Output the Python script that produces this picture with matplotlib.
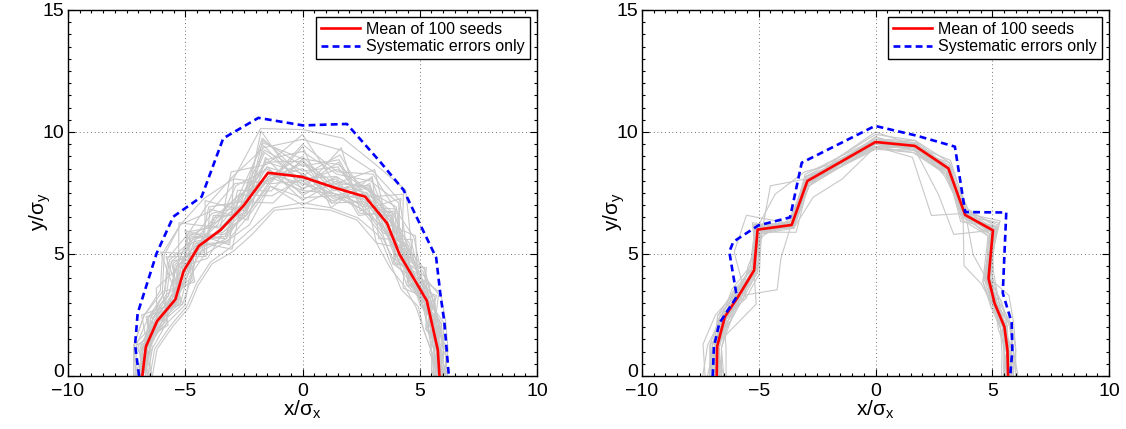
import numpy as np
import matplotlib
matplotlib.use("Agg")
import matplotlib.pyplot as plt
import matplotlib.transforms as mtransforms
from matplotlib.ticker import MultipleLocator

plt.rcParams['font.family'] = ['Liberation Sans', 'DejaVu Sans']
plt.rcParams['mathtext.fontset'] = 'custom'
plt.rcParams['mathtext.rm'] = 'Liberation Sans'
plt.rcParams['mathtext.it'] = 'Liberation Sans'

# Polar angles (deg) at which every seed's contour is sampled
angles_deg = [0, 10, 20, 30, 40, 50, 60, 70, 80, 90,
              100, 110, 120, 130, 140, 150, 160, 170, 180]

# ---- Left panel ----
mean_left_x = [-6.83, -6.68, -6.20, -5.42, -5.07, -4.42, -3.50, -2.52, -1.47,
               -0.01, 1.46, 2.67, 3.60, 4.14, 5.30, 5.77, 5.84]
mean_left_y = [0.00, 1.20, 2.25, 3.14, 4.30, 5.33, 5.98, 6.97, 8.33,
               8.16, 7.69, 7.35, 6.27, 4.98, 3.09, 1.07, 0.00]

sys_left_x = [-6.97, -7.14, -7.03, -6.22, -5.51, -4.30, -3.38, -1.88, 0.02,
              1.89, 3.31, 4.31, 5.70, 5.88, 6.05, 6.24]
sys_left_y = [0.00, 1.27, 2.57, 5.03, 6.53, 7.35, 9.74, 10.58, 10.27,
              10.33, 8.78, 7.62, 4.85, 3.35, 2.20, 0.00]

# contour radius of individual seeds: one row per seed, one column per angle
seeds_left_r = [
    [5.9, 5.7, 6.2, 6.0, 6.6, 6.3, 7.9, 7.4, 8.9, 7.8, 9.6, 7.0, 7.6, 6.6, 7.3, 6.0, 6.9, 6.6, 7.0],
    [5.6, 6.0, 5.7, 6.4, 5.9, 7.0, 6.8, 8.4, 7.2, 8.9, 7.7, 8.1, 6.5, 7.5, 6.2, 6.7, 6.3, 7.0, 6.6],
    [6.1, 5.8, 6.3, 5.8, 6.5, 6.1, 7.6, 7.1, 8.3, 7.4, 9.1, 6.8, 7.9, 6.4, 7.6, 5.9, 7.1, 6.5, 7.1],
    [5.7, 6.2, 5.6, 6.6, 5.8, 7.3, 6.5, 8.7, 7.0, 9.4, 8.0, 8.6, 6.2, 7.8, 6.0, 6.9, 6.1, 7.2, 6.5],
    [5.9, 5.5, 6.1, 5.9, 6.9, 6.0, 8.4, 7.2, 9.5, 7.6, 10.2, 7.2, 8.3, 6.5, 7.9, 6.1, 7.3, 6.7, 6.9],
    [5.5, 5.9, 5.8, 6.3, 5.6, 6.8, 6.3, 7.9, 7.4, 8.3, 7.2, 7.6, 6.0, 7.2, 6.1, 6.5, 6.2, 6.9, 6.4],
    [6.0, 6.1, 6.4, 6.2, 6.8, 6.6, 8.0, 8.1, 8.6, 8.0, 9.3, 7.5, 7.3, 7.0, 7.1, 6.4, 6.8, 6.9, 7.0],
    [5.8, 5.6, 5.5, 5.7, 5.5, 5.9, 6.6, 6.9, 7.0, 7.1, 7.0, 6.4, 6.1, 6.1, 5.9, 5.7, 6.0, 6.4, 6.5],
    [6.0, 6.3, 6.5, 6.8, 6.4, 7.5, 7.2, 9.0, 8.0, 9.9, 8.8, 8.9, 7.0, 8.2, 6.9, 7.2, 6.6, 7.3, 7.1],
    [5.7, 5.8, 5.9, 6.0, 6.2, 6.4, 7.5, 7.7, 7.6, 8.5, 8.2, 7.3, 6.9, 6.9, 6.5, 6.2, 6.7, 6.6, 6.8],
    [5.9, 6.0, 5.6, 6.1, 6.0, 6.7, 7.0, 8.2, 8.1, 7.2, 8.7, 7.8, 6.6, 7.4, 6.8, 6.3, 6.4, 6.8, 6.9],
    [5.6, 5.7, 6.0, 6.5, 6.3, 6.2, 7.7, 7.5, 9.0, 8.6, 9.8, 7.1, 7.5, 6.7, 7.0, 6.6, 7.0, 6.6, 6.7],
    [6.2, 5.9, 6.1, 5.8, 6.1, 6.9, 6.9, 8.0, 7.3, 8.1, 7.5, 7.9, 6.3, 7.1, 6.4, 6.0, 6.5, 7.1, 6.8],
    [5.8, 6.1, 6.2, 6.4, 6.7, 6.5, 8.2, 8.5, 8.4, 9.2, 9.0, 7.4, 7.7, 7.3, 7.4, 6.8, 6.9, 6.7, 7.2],
    [5.5, 5.6, 5.7, 5.9, 6.0, 6.1, 6.7, 7.3, 7.5, 7.3, 7.9, 6.9, 6.4, 6.5, 6.3, 5.8, 6.2, 6.5, 6.6],
    [6.0, 5.9, 5.8, 6.2, 6.4, 7.1, 7.4, 7.6, 8.7, 8.4, 9.4, 7.7, 7.1, 7.7, 6.6, 6.4, 6.8, 7.0, 6.9],
    [5.8, 6.0, 6.3, 6.0, 5.8, 6.3, 7.1, 8.3, 7.8, 9.0, 8.3, 7.2, 6.8, 6.3, 6.9, 6.2, 6.3, 6.7, 6.7],
    [5.9, 5.8, 5.9, 6.3, 6.5, 6.8, 7.8, 7.0, 8.2, 7.7, 8.6, 8.3, 7.2, 7.0, 6.5, 6.5, 6.7, 6.9, 7.0],
    [5.7, 5.9, 6.0, 5.9, 6.1, 6.4, 7.3, 8.6, 7.7, 8.8, 8.1, 7.0, 6.7, 7.6, 6.7, 6.1, 6.6, 6.6, 6.8],
    [6.1, 6.2, 6.1, 6.5, 6.3, 6.6, 8.6, 7.8, 9.2, 8.2, 9.9, 7.6, 8.0, 6.8, 7.2, 6.3, 7.0, 6.8, 6.9],
    [5.8, 5.7, 5.8, 6.1, 6.2, 6.5, 6.9, 7.5, 7.6, 7.9, 8.4, 7.4, 6.9, 7.0, 6.4, 6.4, 6.5, 6.8, 6.8],
    [5.9, 6.0, 6.0, 6.2, 6.0, 6.7, 7.6, 8.0, 7.9, 8.7, 8.2, 7.9, 7.4, 6.9, 7.0, 6.2, 6.6, 6.7, 6.7],
    [5.7, 5.8, 5.9, 6.0, 6.4, 6.2, 7.0, 7.7, 8.0, 7.5, 8.5, 7.1, 6.6, 7.2, 6.6, 6.5, 6.4, 6.9, 6.9],
    [6.0, 5.9, 6.2, 6.3, 6.2, 6.8, 7.4, 8.2, 7.5, 8.3, 8.9, 7.5, 7.0, 6.8, 6.8, 6.1, 6.7, 6.8, 6.8],
    [5.8, 5.9, 6.1, 6.4, 6.5, 7.2, 8.8, 9.2, 9.9, 10.1, 10.3, 8.6, 8.4, 8.1, 7.8, 7.0, 7.2, 7.3, 7.2],
    [5.6, 5.6, 5.5, 5.6, 5.7, 5.8, 6.3, 6.8, 6.9, 6.9, 6.9, 6.2, 5.9, 6.0, 5.8, 5.6, 5.9, 6.3, 6.4],
    [6.1, 6.3, 6.0, 6.7, 6.6, 7.4, 7.9, 8.8, 8.5, 9.5, 8.1, 8.4, 7.8, 8.1, 7.7, 6.9, 7.2, 7.3, 7.2],
    [5.6, 5.7, 6.0, 5.9, 6.2, 6.0, 6.8, 7.4, 7.8, 7.0, 7.9, 6.6, 6.4, 6.9, 6.2, 5.9, 6.4, 6.6, 6.5],
    [5.9, 6.0, 5.9, 6.3, 6.5, 7.0, 7.7, 8.1, 8.8, 8.9, 9.7, 7.9, 7.5, 7.2, 7.3, 6.7, 6.8, 6.9, 7.0],
    [5.7, 5.8, 6.1, 6.0, 5.9, 6.6, 7.2, 7.6, 7.2, 8.0, 8.0, 7.0, 6.8, 7.3, 6.9, 6.3, 6.6, 6.7, 6.8],
    [6.0, 5.9, 6.2, 6.4, 6.8, 6.9, 8.3, 8.9, 9.4, 9.7, 9.5, 8.7, 8.1, 7.6, 7.5, 6.8, 7.0, 7.2, 7.1],
    [5.8, 5.7, 5.7, 6.0, 6.1, 6.3, 7.0, 7.3, 7.6, 7.6, 8.3, 7.2, 6.5, 6.7, 6.4, 6.2, 6.6, 6.9, 6.9],
    [5.9, 6.1, 6.3, 6.2, 6.5, 6.9, 7.5, 8.3, 8.0, 8.8, 8.9, 7.8, 7.3, 7.5, 7.0, 6.6, 6.8, 6.6, 6.7],
    [5.7, 5.8, 5.8, 6.1, 6.3, 6.7, 7.4, 7.9, 8.3, 8.1, 8.7, 7.4, 7.0, 6.9, 6.6, 6.3, 6.5, 6.8, 6.9],
]

# ---- Right panel ----
mean_right_x = [-6.80, -6.78, -6.45, -5.85, -5.20, -5.05, -3.59, -2.92, 0.00,
                1.69, 3.12, 3.84, 5.03, 4.84, 5.10, 5.52, 5.65, 5.68]
mean_right_y = [0.00, 1.22, 2.43, 3.30, 4.33, 6.00, 6.19, 7.99, 9.59,
                9.43, 8.51, 6.60, 5.97, 4.00, 2.98, 2.02, 1.07, 0.00]

sys_right_x = [-6.97, -6.92, -6.69, -5.94, -6.26, -6.09, -5.02, -3.66, -3.16,
               -0.02, 1.76, 3.40, 3.84, 5.60, 5.45, 5.83, 5.86, 5.77]
sys_right_y = [0.00, 1.20, 2.16, 3.25, 5.09, 5.50, 6.17, 6.50, 8.74,
               10.25, 9.85, 9.40, 6.72, 6.70, 3.40, 2.20, 1.05, 0.00]

seeds_right_r = [
    [5.7, 5.9, 5.8, 6.0, 6.2, 7.9, 7.5, 9.2, 9.5, 9.7, 8.8, 8.6, 7.1, 7.9, 6.7, 6.8, 6.8, 7.0, 6.8],
    [5.5, 5.6, 6.0, 5.8, 6.4, 7.6, 7.8, 8.9, 9.7, 9.4, 9.0, 8.3, 7.3, 7.6, 6.9, 6.5, 7.0, 6.8, 6.7],
    [5.9, 5.7, 5.9, 6.1, 6.1, 8.0, 7.5, 9.3, 9.4, 9.8, 8.7, 8.7, 7.0, 8.1, 6.6, 6.9, 6.7, 7.0, 7.0],
    [5.6, 5.8, 5.7, 5.9, 6.5, 7.7, 7.7, 8.8, 9.6, 9.5, 9.0, 8.4, 7.2, 7.7, 6.8, 6.6, 7.1, 6.8, 6.6],
    [5.8, 6.0, 6.1, 6.2, 6.3, 8.2, 7.6, 9.1, 9.8, 9.7, 8.9, 8.6, 7.3, 8.0, 6.9, 7.0, 6.9, 7.1, 7.1],
    [5.7, 5.7, 5.8, 5.8, 6.2, 6.5, 7.7, 7.0, 9.1, 9.4, 8.7, 8.4, 7.1, 7.8, 6.7, 6.6, 6.8, 6.8, 6.7],
    [5.6, 5.7, 5.9, 6.0, 6.3, 7.7, 7.6, 9.0, 9.5, 9.4, 8.9, 8.6, 9.0, 7.6, 6.8, 6.7, 6.9, 6.9, 6.8],
    [5.4, 5.5, 5.7, 5.7, 6.0, 7.5, 7.4, 8.9, 9.3, 9.3, 8.7, 8.3, 7.0, 7.6, 6.6, 6.5, 6.6, 6.7, 6.6],
    [6.0, 6.1, 6.2, 6.1, 6.5, 8.0, 7.9, 9.3, 9.8, 9.9, 9.1, 8.7, 7.3, 8.0, 6.9, 6.9, 7.1, 7.2, 7.1],
    [5.7, 5.8, 5.9, 6.0, 6.3, 7.8, 6.7, 7.9, 9.5, 9.6, 8.9, 8.5, 7.2, 7.8, 6.8, 6.7, 6.9, 6.9, 6.8],
    [5.8, 5.8, 5.9, 6.0, 6.3, 7.8, 7.7, 9.1, 9.6, 9.6, 8.9, 8.5, 7.2, 8.6, 7.9, 6.4, 6.9, 7.0, 6.9],
    [5.7, 5.7, 5.8, 5.9, 6.3, 7.8, 7.6, 9.0, 9.6, 9.6, 8.9, 8.5, 7.1, 7.8, 6.7, 6.7, 6.8, 6.8, 6.8],
    [5.6, 5.7, 5.8, 5.8, 5.9, 5.9, 7.5, 9.0, 9.5, 9.5, 8.8, 8.4, 7.1, 7.8, 6.7, 6.7, 6.8, 6.8, 6.9],
    [5.7, 5.8, 5.9, 5.9, 6.2, 7.7, 7.6, 9.0, 9.6, 9.6, 8.9, 8.5, 7.2, 6.3, 5.5, 6.6, 6.9, 6.9, 6.8],
    [5.9, 6.0, 6.1, 6.0, 6.4, 8.1, 7.8, 9.4, 9.6, 10.0, 9.1, 8.8, 7.2, 8.0, 7.0, 6.8, 7.2, 7.0, 7.2],
    [5.5, 5.6, 5.8, 5.8, 6.1, 7.6, 7.5, 8.8, 9.4, 9.3, 8.7, 8.3, 7.1, 7.7, 6.6, 6.6, 6.7, 6.7, 6.5],
    [5.8, 5.7, 6.0, 5.9, 6.4, 7.9, 7.5, 9.1, 9.7, 9.6, 8.8, 8.6, 7.0, 7.9, 6.8, 6.8, 7.0, 7.0, 6.9],
    [5.9, 6.1, 6.3, 6.6, 6.3, 7.8, 7.6, 9.0, 9.5, 9.6, 8.9, 8.5, 7.2, 7.8, 6.7, 6.7, 6.8, 6.9, 6.8],
    [5.7, 5.7, 5.8, 5.9, 6.2, 7.8, 7.7, 9.1, 9.6, 9.5, 8.8, 8.4, 7.1, 7.7, 6.8, 5.9, 6.3, 7.0, 6.8],
    [5.6, 5.8, 5.9, 5.9, 6.3, 7.7, 7.6, 9.0, 9.5, 9.4, 8.2, 7.8, 7.0, 7.9, 6.8, 6.7, 6.9, 6.8, 6.7],
    [5.8, 5.9, 5.9, 6.0, 6.3, 7.8, 7.7, 9.1, 9.7, 9.7, 9.0, 8.6, 7.2, 7.9, 6.8, 6.8, 7.0, 7.0, 7.0],
    [5.6, 5.6, 5.7, 5.8, 6.2, 7.7, 7.6, 8.9, 9.4, 9.5, 8.8, 8.4, 7.1, 7.8, 6.9, 6.9, 7.3, 7.5, 7.3],
    [5.9, 5.8, 6.0, 6.2, 6.1, 7.9, 7.8, 9.2, 9.5, 9.8, 8.9, 8.7, 7.2, 8.0, 7.0, 7.1, 7.0, 7.3, 7.4],
    [5.5, 5.7, 5.6, 5.9, 6.4, 7.6, 7.5, 8.9, 9.7, 9.3, 9.0, 8.3, 7.1, 7.6, 6.5, 6.4, 6.9, 6.5, 6.4],
    [5.8, 5.6, 5.9, 5.7, 6.3, 8.0, 7.3, 9.0, 9.4, 9.6, 8.8, 8.7, 7.3, 7.7, 6.9, 6.6, 6.6, 7.2, 7.0],
    [6.1, 6.0, 5.8, 6.1, 6.6, 7.7, 7.9, 9.1, 9.6, 9.7, 9.1, 8.4, 7.0, 8.2, 6.6, 7.0, 7.2, 6.8, 6.9],
    [5.6, 5.9, 6.2, 5.8, 6.0, 7.9, 7.6, 8.7, 9.8, 9.5, 8.7, 8.6, 7.4, 7.5, 7.1, 6.6, 6.7, 7.0, 6.6],
    [5.7, 5.7, 5.8, 5.9, 6.3, 7.8, 7.7, 9.1, 9.6, 9.6, 8.9, 8.9, 8.6, 7.9, 6.8, 6.7, 6.8, 6.9, 6.8],
    [5.8, 5.9, 5.9, 6.0, 6.2, 8.3, 7.7, 9.0, 9.5, 9.6, 9.0, 8.5, 7.2, 8.1, 6.7, 6.9, 7.1, 7.1, 7.0],
    [5.5, 5.6, 5.9, 6.0, 6.3, 7.5, 7.6, 8.8, 9.3, 9.4, 8.7, 8.4, 6.8, 7.7, 6.6, 6.8, 6.6, 6.9, 6.5],
]

GREY = '#c8c8c8'
RED = '#ff0000'
BLUE = '#0000ff'


def draw_panel(ax, seeds_r, mx, my, sx, sy):
    th = np.deg2rad(angles_deg)
    for r in seeds_r:
        r = np.asarray(r)
        ax.plot(r * np.cos(th), r * np.sin(th), color=GREY, lw=0.8, zorder=1)
    ax.plot(mx, my, color=RED, lw=1.9, label='Mean of 100 seeds', zorder=3)
    ax.plot(sx, sy, color=BLUE, lw=1.9, dashes=(2.6, 1.6),
            label='Systematic errors only', zorder=3)

    ax.set_xlim(-10, 10)
    ax.set_ylim(0, 15)
    ax.xaxis.set_major_locator(MultipleLocator(5))
    ax.yaxis.set_major_locator(MultipleLocator(5))
    ax.xaxis.set_minor_locator(MultipleLocator(0.5))
    ax.yaxis.set_minor_locator(MultipleLocator(0.5))
    ax.tick_params(which='both', direction='in', top=True, right=True,
                   width=0.8, labelsize=14)
    ax.tick_params(which='major', length=5)
    ax.tick_params(which='minor', length=2.5)
    ax.tick_params(axis='x', which='both', pad=5)
    ax.tick_params(axis='y', which='both', pad=3)
    ax.grid(True, which='major', color='#444444', lw=0.6,
            linestyle=(0, (1, 3.5)))
    for s in ax.spines.values():
        s.set_linewidth(1.0)
    ax.set_xlabel(r'x/$\mathregular{\sigma_x}$', fontsize=15)
    ax.set_ylabel(r'y/$\mathregular{\sigma_y}$', fontsize=15)
    ax.xaxis.set_label_coords(0.5, -0.062)
    ax.yaxis.set_label_coords(-0.032, 0.45)
    leg = ax.legend(loc='upper right', fontsize=11.5, fancybox=False,
                    framealpha=1, edgecolor='black', handlelength=2.45,
                    handletextpad=0.4, borderpad=0.3, labelspacing=0.15,
                    borderaxespad=0.45)
    leg.get_frame().set_linewidth(1.0)


fig = plt.figure(figsize=(11.26, 4.29), dpi=100)
ax1 = fig.add_axes([68 / 1126, 53 / 429, 469 / 1126, 366 / 429])
ax2 = fig.add_axes([642 / 1126, 53 / 429, 467 / 1126, 366 / 429])

draw_panel(ax1, seeds_left_r, mean_left_x, mean_left_y, sys_left_x, sys_left_y)
draw_panel(ax2, seeds_right_r, mean_right_x, mean_right_y, sys_right_x, sys_right_y)

# lay out the ticks once, then lift the y-axis "0" so it clears the "-10" below
fig.canvas.draw()
lift = mtransforms.ScaledTranslation(0, 4 / 72, fig.dpi_scale_trans)
for ax in (ax1, ax2):
    for tick in ax.yaxis.get_major_ticks():
        if tick.label1.get_text() == '0':
            tick.label1.set_transform(tick.label1.get_transform() + lift)

fig.savefig('out.png', dpi=100)
